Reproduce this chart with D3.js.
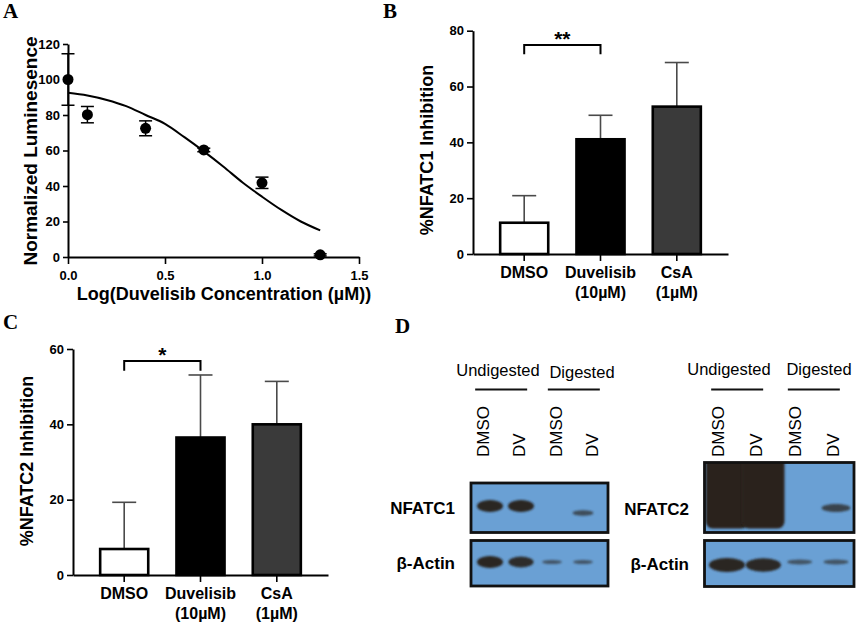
<!DOCTYPE html>
<html>
<head>
<meta charset="utf-8">
<script src="https://cdn.jsdelivr.net/npm/d3@7"></script>
<style>
  body { margin: 0; background: #fff; }
  svg { display: block; font-family: Arial, "Liberation Sans", sans-serif; }
</style>
</head>
<body>
<svg id="fig" width="858" height="623"></svg>
<script>
// ---------- data: panel A (dose response) ----------
var doseX = [0, 0.1, 0.4, 0.7, 1.0, 1.3];
var doseMean = [100, 80.2, 72.5, 60.3, 41.8, 1.2];
var doseErr = [14.5, 4.6, 4.2, 1.0, 3.2, 0.6];
var fitX = [0, 0.1, 0.2, 0.3, 0.4, 0.5, 0.6, 0.7, 0.8, 0.9, 1.0, 1.1, 1.2, 1.3];
var fitY = [92.5, 91, 88.5, 85, 80, 75, 67.5, 59.5, 51, 42, 34, 26.5, 20, 15];
var aTicksX = [0, 0.5, 1.0, 1.5];
var aTicksY = [0, 20, 40, 60, 80, 100, 120];

// ---------- data: panels B and C (bars) ----------
var groups = ["DMSO", "Duvelisib", "CsA"];
var groupDose = ["", "(10µM)", "(1µM)"];
var nfatc1Mean = [11.2, 41.1, 52.8];
var nfatc1Err = [9.7, 8.6, 15.8];
var nfatc2Mean = [6.9, 36.5, 40.0];
var nfatc2Err = [12.4, 16.6, 11.4];
var bTicks = [0, 20, 40, 60, 80];
var cTicks = [0, 20, 40, 60];

// ---------- data: panel D (blots, relative band signal) ----------
var laneNames = ["DMSO", "DV", "DMSO", "DV"];
var treatGroups = ["Undigested", "Digested"];
var nfatc1Signal = [1, 1, 0, 0.3];
var actin1Signal = [1, 0.88, 0.12, 0.12];
var nfatc2Signal = [3, 3, 0, 0.45];   // >1.5 = saturated lane
var actin2Signal = [1, 0.95, 0.15, 0.15];

var barFill = ["#ffffff", "#000000", "#3a3a3a"];
var svg = d3.select("#fig");

function panelLetter(txt, x, y) {
  svg.append("text").attr("x", x).attr("y", y)
    .attr("font-family", "'Liberation Serif', 'Times New Roman', serif")
    .attr("font-weight", "bold").attr("font-size", 21).text(txt);
}

function styleAxis(g, fs) {
  g.select(".domain").attr("stroke", "#000").attr("stroke-width", 2);
  g.selectAll(".tick line").attr("stroke", "#000").attr("stroke-width", 1.6);
  g.selectAll(".tick text").attr("font-size", fs).attr("font-weight", "bold")
    .attr("font-family", "Arial, 'Liberation Sans', sans-serif").attr("fill", "#000");
}

// ---------- panel A ----------
function drawDose() {
  var x = d3.scaleLinear().domain([0, 1.5]).range([68, 359]);
  var y = d3.scaleLinear().domain([0, 120]).range([257, 44]);
  var g = svg.append("g");

  var gy = g.append("g").attr("transform", "translate(68,0)")
    .call(d3.axisLeft(y).tickValues(aTicksY).tickSize(5).tickSizeOuter(0).tickPadding(3));
  styleAxis(gy, 13);
  var gx = g.append("g").attr("transform", "translate(0,257)")
    .call(d3.axisBottom(x).tickValues(aTicksX).tickFormat(d3.format(".1f"))
      .tickSize(7).tickSizeOuter(0).tickPadding(7));
  styleAxis(gx, 13);

  var line = d3.line().x(function (d, i) { return x(fitX[i]); })
    .y(function (d) { return y(d); }).curve(d3.curveMonotoneX);
  g.append("path").datum(fitY).attr("d", line)
    .attr("fill", "none").attr("stroke", "#000").attr("stroke-width", 2);

  var err = g.selectAll("g.err").data(doseMean).join("g").attr("class", "err");
  err.append("line")
    .attr("x1", function (d, i) { return x(doseX[i]); })
    .attr("x2", function (d, i) { return x(doseX[i]); })
    .attr("y1", function (d, i) { return y(d - doseErr[i]); })
    .attr("y2", function (d, i) { return y(d + doseErr[i]); });
  [1, -1].forEach(function (s) {
    err.append("line")
      .attr("x1", function (d, i) { return x(doseX[i]) - 6.5; })
      .attr("x2", function (d, i) { return x(doseX[i]) + 6.5; })
      .attr("y1", function (d, i) { return y(d + s * doseErr[i]); })
      .attr("y2", function (d, i) { return y(d + s * doseErr[i]); });
  });
  err.selectAll("line").attr("stroke", "#000").attr("stroke-width", 1.5);

  g.selectAll("circle").data(doseMean).join("circle")
    .attr("cx", function (d, i) { return x(doseX[i]); })
    .attr("cy", function (d) { return y(d); })
    .attr("r", 5.5).attr("fill", "#000");

  g.append("text").attr("transform", "translate(30,151) rotate(-90)")
    .attr("text-anchor", "middle").attr("dy", "0.35em")
    .attr("font-size", 19).attr("font-weight", "bold").text("Normalized Luminesence");
  g.append("text").attr("x", 224).attr("y", 300).attr("text-anchor", "middle")
    .attr("font-size", 18).attr("font-weight", "bold")
    .text("Log(Duvelisib Concentration (µM))");
}

// ---------- panels B / C ----------
function drawBars(cfg) {
  var y = d3.scaleLinear().domain([0, cfg.max]).range([cfg.y0, cfg.y1]);
  var x = d3.scaleBand().domain(groups).range([cfg.x0, cfg.x0 + 255])
    .paddingInner(0.37).paddingOuter(0.356);
  var cx = function (i) { return x(groups[i]) + x.bandwidth() / 2; };
  var g = svg.append("g");

  // error bars (upper only)
  var err = g.selectAll("g.err").data(cfg.mean).join("g").attr("class", "err");
  err.append("line")
    .attr("x1", function (d, i) { return cx(i); }).attr("x2", function (d, i) { return cx(i); })
    .attr("y1", function (d) { return y(d); })
    .attr("y2", function (d, i) { return y(d + cfg.err[i]); });
  err.append("line")
    .attr("x1", function (d, i) { return cx(i) - 12; }).attr("x2", function (d, i) { return cx(i) + 12; })
    .attr("y1", function (d, i) { return y(d + cfg.err[i]); })
    .attr("y2", function (d, i) { return y(d + cfg.err[i]); });
  err.selectAll("line").attr("stroke", "#4a4a4a").attr("stroke-width", 1.6);

  g.selectAll("rect.bar").data(cfg.mean).join("rect").attr("class", "bar")
    .attr("x", function (d, i) { return x(groups[i]); })
    .attr("y", function (d) { return y(d); })
    .attr("width", x.bandwidth())
    .attr("height", function (d) { return cfg.y0 - y(d); })
    .attr("fill", function (d, i) { return barFill[i]; })
    .attr("stroke", "#000").attr("stroke-width", 2.6);

  var gy = g.append("g").attr("transform", "translate(" + cfg.x0 + ",0)")
    .call(d3.axisLeft(y).tickValues(cfg.ticks).tickSize(6).tickSizeOuter(0).tickPadding(3));
  styleAxis(gy, 13);
  var gx = g.append("g").attr("transform", "translate(0," + cfg.y0 + ")")
    .call(d3.axisBottom(x).tickSize(7).tickSizeOuter(0).tickFormat(""));
  styleAxis(gx, 13);

  var lab = g.selectAll("text.cat").data(groups).join("text").attr("class", "cat")
    .attr("text-anchor", "middle").attr("font-size", 16).attr("font-weight", "bold");
  lab.append("tspan").attr("x", function (d, i) { return cx(i); })
    .attr("y", cfg.y0 + 24).text(function (d) { return d; });
  lab.append("tspan").attr("x", function (d, i) { return cx(i); })
    .attr("y", cfg.y0 + 44).text(function (d, i) { return groupDose[i]; });

  // significance bracket
  var s = cfg.sig;
  g.append("path")
    .attr("d", "M" + cx(s.from) + "," + y(s.drop) + "V" + y(s.level) +
      "H" + cx(s.to) + "V" + y(s.drop))
    .attr("fill", "none").attr("stroke", "#000").attr("stroke-width", 2);
  g.append("text").attr("x", (cx(s.from) + cx(s.to)) / 2).attr("y", y(s.level) + 1)
    .attr("text-anchor", "middle").attr("font-size", 21).attr("font-weight", "bold")
    .text(s.label);

  g.append("text").attr("transform", "translate(" + cfg.titleX + "," + cfg.titleY + ") rotate(-90)")
    .attr("text-anchor", "middle").attr("dy", "0.35em")
    .attr("font-size", 18).attr("font-weight", "bold").text(cfg.title);
}

// ---------- panel D ----------
var defs = svg.append("defs");
defs.append("filter").attr("id", "soft").attr("x", "-30%").attr("y", "-60%")
  .attr("width", "160%").attr("height", "220%")
  .append("feGaussianBlur").attr("stdDeviation", 1.3);

function drawBlot(cfg) {
  var g = svg.append("g");
  var labelX = d3.scalePoint().domain(d3.range(4)).range(cfg.labelRange);
  var bandX = d3.scalePoint().domain(d3.range(4)).range(cfg.bandRange);
  var step = bandX.step();
  var rx = d3.scaleLinear().domain([0, 1]).range(cfg.rxRange).clamp(true);
  var ry = d3.scaleLinear().domain([0, 1]).range(cfg.ryRange).clamp(true);
  var op = d3.scaleLinear().domain([0, 0.1, 1]).range([0, 0.6, 1]).clamp(true);

  // group headings with underline
  treatGroups.forEach(function (t, k) {
    var a = labelX(k * 2), b = labelX(k * 2 + 1);
    g.append("text").attr("x", cfg.headX[k]).attr("y", cfg.headY[k])
      .attr("text-anchor", "middle").attr("font-size", 16.5).text(t);
    g.append("line").attr("x1", (a + b) / 2 - 26).attr("x2", (a + b) / 2 + 26)
      .attr("y1", 389.5).attr("y2", 389.5).attr("stroke", "#111").attr("stroke-width", 2);
  });

  g.selectAll("text.lane").data(laneNames).join("text").attr("class", "lane")
    .attr("transform", function (d, i) { return "translate(" + labelX(i) + ",457) rotate(-90)"; })
    .attr("dy", "0.36em").attr("font-size", 17).text(function (d) { return d; });

  cfg.rows.forEach(function (row, r) {
    var id = "clip" + cfg.id + r;
    defs.append("clipPath").attr("id", id).append("rect")
      .attr("x", cfg.x0).attr("y", row.top).attr("width", cfg.x1 - cfg.x0)
      .attr("height", row.bottom - row.top);
    g.append("rect").attr("x", cfg.x0).attr("y", row.top)
      .attr("width", cfg.x1 - cfg.x0).attr("height", row.bottom - row.top)
      .attr("fill", "#6aa0d4");

    var bands = g.append("g").attr("clip-path", "url(#" + id + ")");
    row.signal.forEach(function (d, i) {
      if (d <= 0) return;
      if (d > 1.5) {
        // saturated lane: fills the whole strip
        bands.append("rect").attr("x", bandX(i) - step / 2 - 3).attr("y", row.top - 8)
          .attr("width", step + 6).attr("height", row.bottom - row.top + 4)
          .attr("rx", 7).attr("fill", "#29241f").attr("filter", "url(#soft)");
      } else {
        bands.append("ellipse").attr("cx", bandX(i))
          .attr("cy", row.bandY + (d < 0.5 ? row.faintShift : 0))
          .attr("rx", rx(d)).attr("ry", ry(d))
          .attr("fill", "#2a2520").attr("opacity", op(d)).attr("filter", "url(#soft)");
      }
    });

    g.append("rect").attr("x", cfg.x0).attr("y", row.top)
      .attr("width", cfg.x1 - cfg.x0).attr("height", row.bottom - row.top)
      .attr("fill", "none").attr("stroke", "#111").attr("stroke-width", 2.8);

    g.append("text").attr("x", cfg.labelRight)
      .attr("y", (row.top + row.bottom) / 2 + (r === 0 ? cfg.nameShift : 0))
      .attr("dy", "0.36em").attr("text-anchor", "end")
      .attr("font-size", 17).attr("font-weight", "bold").text(row.name);
  });
}

drawDose();
drawBars({ x0: 473, y0: 254, y1: 30.7, max: 80, ticks: bTicks, mean: nfatc1Mean, err: nfatc1Err,
  sig: { from: 0, to: 1, level: 74.9, drop: 71.6, label: "**" },
  title: "%NFATC1 Inhibition", titleX: 427, titleY: 150 });
drawBars({ x0: 73, y0: 575, y1: 349, max: 60, ticks: cTicks, mean: nfatc2Mean, err: nfatc2Err,
  sig: { from: 0, to: 1, level: 56.8, drop: 54.2, label: "*" },
  title: "%NFATC2 Inhibition", titleX: 27, titleY: 461 });

drawBlot({ id: "L", x0: 471, x1: 608, labelRange: [483, 592], bandRange: [490, 583],
  headX: [498, 582], headY: [376, 378], labelRight: 455, nameShift: 0,
  rxRange: [9.5, 13], ryRange: [1.4, 6],
  rows: [
    { name: "NFATC1", top: 483, bottom: 532.5, bandY: 506, faintShift: 7, signal: nfatc1Signal },
    { name: "β-Actin", top: 540.5, bottom: 586, bandY: 562, faintShift: 0, signal: actin1Signal }
  ] });
drawBlot({ id: "R", x0: 704.5, x1: 854, labelRange: [718, 833], bandRange: [727, 836],
  headX: [729, 819], headY: [375, 375], labelRight: 689, nameShift: 11,
  rxRange: [11.5, 18], ryRange: [1.6, 7],
  rows: [
    { name: "NFATC2", top: 462.5, bottom: 532.5, bandY: 508, faintShift: 0, signal: nfatc2Signal },
    { name: "β-Actin", top: 540.5, bottom: 586.5, bandY: 565, faintShift: -3, signal: actin2Signal }
  ] });

panelLetter("A", 3, 18);
panelLetter("B", 383, 18);
panelLetter("C", 3, 329);
panelLetter("D", 395, 333);
</script>
</body>
</html>
